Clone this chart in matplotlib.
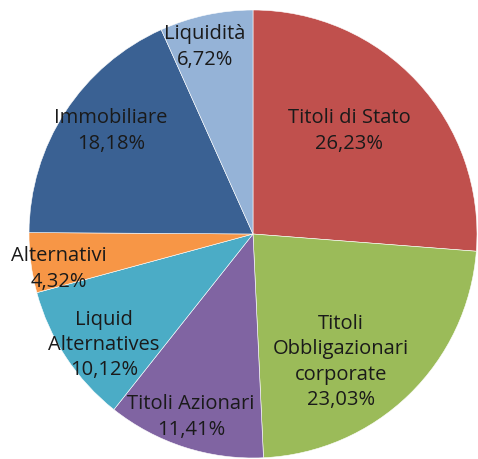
import matplotlib.pyplot as plt

categories = ["Titoli di Stato", "Titoli\nObbligazionari\ncorporate", "Titoli Azionari",
              "Liquid\nAlternatives", "Alternativi", "Immobiliare", "Liquidità"]
values = [26.23, 23.03, 11.41, 10.12, 4.32, 18.18, 6.72]
colors = ["#C0504D", "#9BBB59", "#8064A2", "#4BACC6", "#F79646", "#3A6193", "#95B3D7"]

# label centers in pixels of the original picture
label_pos = [(349, 131), (341, 362), (191, 417), (104, 345), (59, 269), (111, 131), (205, 47)]

W, H = 478, 459
cx, cy, r = 253, 234, 224

fig = plt.figure(figsize=(W / 100, H / 100), dpi=100)
ax = fig.add_axes([(cx - r) / W, (H - cy - r) / H, 2 * r / W, 2 * r / H])
ax.pie(values, colors=colors, startangle=90, counterclock=False,
       wedgeprops=dict(edgecolor="white", linewidth=0.4))
ax.set_xlim(-1, 1)
ax.set_ylim(-1, 1)
ax.set_aspect("equal")
ax.axis("off")

for cat, val, (px, py) in zip(categories, values, label_pos):
    txt = cat + "\n" + ("%.2f%%" % val).replace(".", ",")
    ax.text((px - cx) / r, (cy - py) / r, txt, ha="center", va="center",
            fontsize=14.5, family="Open Sans", color="#1a1a1a", linespacing=1.36)

fig.savefig("out.png", dpi=100)
